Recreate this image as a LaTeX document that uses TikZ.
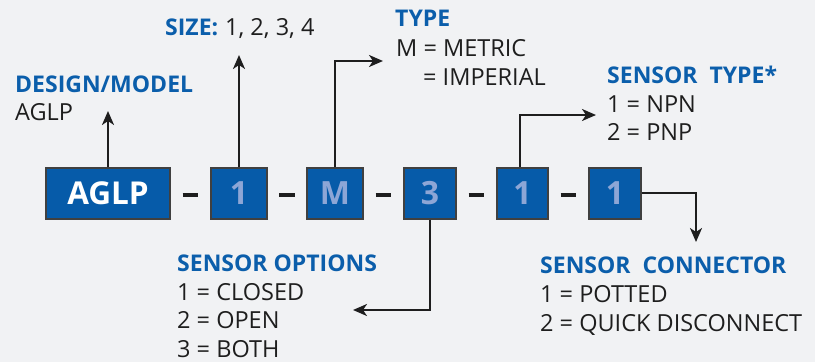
\documentclass[tikz,border=0pt]{standalone}
\usepackage{fontspec}
\setmainfont{Open Sans}
\usetikzlibrary{arrows.meta,calc}
\definecolor{bg}{HTML}{F1F2F4}
\definecolor{boxblue}{HTML}{065BA9}
\definecolor{titleblue}{HTML}{0B5EAB}
\definecolor{digit}{HTML}{8DA6D6}
\definecolor{ink}{HTML}{1E1E1E}
\begin{document}
\begin{tikzpicture}[x=1pt,y=-1pt,
  codebox/.style={draw=ink!85,line width=1.2pt,fill=boxblue,minimum height=51pt,inner sep=0pt,font=\fontsize{32}{32}\selectfont\bfseries,text=digit},
  lbl/.style={anchor=base west,inner sep=0pt,text=ink,font=\fontsize{23.5}{23.5}\selectfont},
  ttl/.style={anchor=base west,inner sep=0pt,text=titleblue,font=\fontsize{23}{23}\selectfont\bfseries},
  arr/.style={draw=ink,line width=2.2pt,-{Stealth[length=14pt,width=12pt,inset=4pt]}},
  hyph/.style={draw=ink,line width=3.2pt}]
\fill[bg] (0,0) rectangle (815,362);
\useasboundingbox (0,0) rectangle (815,362);
% boxes
\node[codebox,minimum width=124pt,text=white,font=\fontsize{31.5}{31.5}\selectfont\bfseries] (aglp) at (108,193.5) {AGLP};
\node[codebox,minimum width=56pt] (b1) at (239,193.5) {1};
\node[codebox,minimum width=56pt] (bM) at (335,193.5) {M};
\node[codebox,minimum width=52pt] (b3) at (430,193.5) {3};
\node[codebox,minimum width=51pt] (b5) at (522.5,193.5) {1};
\node[codebox,minimum width=52pt] (b6) at (615,193.5) {1};
% hyphens
\foreach \a/\b in {aglp/b1,b1/bM,bM/b3,b3/b5,b5/b6}{
  \draw[hyph] ($(\a.east)!0.3!(\b.west)+(0,1.5)$) -- ($(\a.east)!0.7!(\b.west)+(0,1.5)$);
}
% labels
\node[ttl] (dmT) at (15,92) {DESIGN/MODEL};
\node[lbl] (dmV) at (15,120) {AGLP};
\node[ttl] (szT) at (165,35) {SIZE:};
\node[lbl] (szV) at (225,35) {1, 2, 3, 4};
\node[ttl] (tyT) at (395,26) {TYPE};
\node[lbl] (ty1) at (396,56) {M = METRIC};
\node[lbl] (ty2) at (423,85) {= IMPERIAL};
\node[ttl] (stT) at (607,83) {SENSOR\ \ TYPE*};
\node[lbl] (st1) at (607,112) {1 = NPN};
\node[lbl] (st2) at (607,140) {2 = PNP};
\node[ttl] (soT) at (177,271) {SENSOR OPTIONS};
\node[lbl] (so1) at (177,300) {1 = CLOSED};
\node[lbl] (so2) at (177,328.5) {2 = OPEN};
\node[lbl] (so3) at (177,357) {3 = BOTH};
\node[ttl] (scT) at (540,273) {SENSOR\ \ CONNECTOR};
\node[lbl] (sc1) at (540,302) {1 = POTTED};
\node[lbl] (sc2) at (540,331) {2 = QUICK DISCONNECT};
% arrow end points
\coordinate (t1) at (108,111);
\coordinate (t2) at (239,55);
\coordinate (t3) at (383,61);
\coordinate (t4) at (353,310);
\coordinate (t5) at (596,115);
\coordinate (t6) at (696,242);
% connectors
\draw[arr] (aglp.north) -- (t1);
\draw[arr] (b1.north) -- (t2);
\draw[arr] (bM.north) |- (t3);
\draw[arr] (b3.south) |- (t4);
\draw[arr] ([xshift=-2.5pt]b5.north) |- (t5);
\draw[arr] ([yshift=0.5pt]b6.east) -| (t6);
\end{tikzpicture}
\end{document}
